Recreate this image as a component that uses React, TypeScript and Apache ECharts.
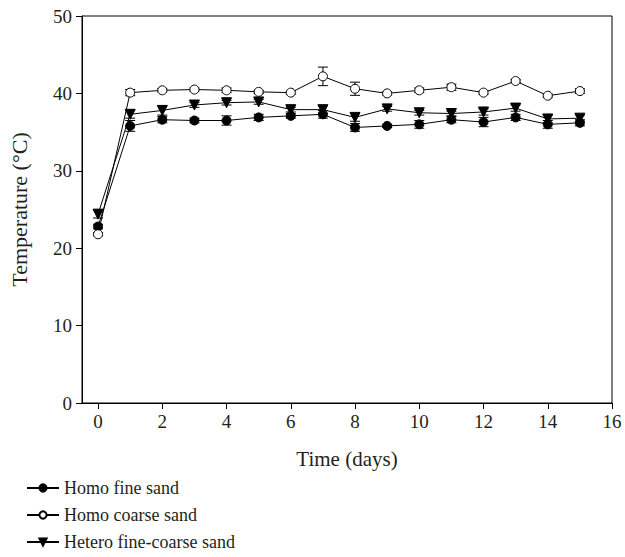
import React, { useEffect, useRef } from "react";
import * as echarts from "echarts";

const days = [0, 1, 2, 3, 4, 5, 6, 7, 8, 9, 10, 11, 12, 13, 14, 15];
const homoFine = [22.8, 35.8, 36.6, 36.5, 36.5, 36.9, 37.1, 37.3, 35.6, 35.8, 36.0, 36.6, 36.3, 36.9, 36.0, 36.2];
const homoFineErr = [0.3, 0.7, 0.4, 0.3, 0.6, 0.4, 0.3, 0.5, 0.5, 0.2, 0.5, 0.4, 0.6, 0.4, 0.5, 0.4];
const homoCoarse = [21.8, 40.1, 40.4, 40.5, 40.4, 40.2, 40.1, 42.2, 40.6, 40.0, 40.4, 40.8, 40.1, 41.6, 39.7, 40.3];
const homoCoarseErr = [0.2, 0.4, 0.2, 0.2, 0.3, 0.2, 0.2, 1.2, 0.85, 0.2, 0.3, 0.4, 0.2, 0.2, 0.2, 0.3];
const hetero = [24.4, 37.3, 37.8, 38.5, 38.8, 38.9, 37.9, 37.9, 36.9, 38.0, 37.5, 37.4, 37.6, 38.1, 36.7, 36.8];
const heteroErr = [0.5, 0.5, 0.6, 0.3, 0.3, 0.3, 0.3, 0.5, 0.5, 0.3, 0.3, 0.3, 0.4, 0.4, 0.5, 0.4];
const xTicks = [0, 2, 4, 6, 8, 10, 12, 14, 16];
const seriesNames = ["Homo fine sand", "Homo coarse sand", "Hetero fine-coarse sand"];

const FONT = "'Liberation Serif', 'DejaVu Serif', serif";
const TXT = "#231f20";

function errorSeries(vals: number[], errs: number[]) {
  return {
    type: "custom",
    silent: true,
    z: 1,
    data: days.map((d, i) => [d, vals[i], errs[i]]),
    encode: { x: 0, y: 1 },
    renderItem: (params: any, api: any) => {
      const x = api.value(0);
      const y = api.value(1);
      const e = api.value(2);
      const top = api.coord([x, y + e]);
      const bot = api.coord([x, y - e]);
      const hw = 5;
      const style = { stroke: "#000", lineWidth: 1 };
      return {
        type: "group",
        children: [
          { type: "line", shape: { x1: top[0], y1: top[1], x2: bot[0], y2: bot[1] }, style },
          { type: "line", shape: { x1: top[0] - hw, y1: top[1], x2: top[0] + hw, y2: top[1] }, style },
          { type: "line", shape: { x1: bot[0] - hw, y1: bot[1], x2: bot[0] + hw, y2: bot[1] }, style },
        ],
      };
    },
  };
}

function lineSeries(name: string, vals: number[], symbol: string, fill: string, size: number, rotate = 0) {
  return {
    name,
    type: "line",
    z: 3,
    data: days.map((d, i) => [d, vals[i]]),
    symbol,
    symbolSize: size,
    symbolRotate: rotate,
    showAllSymbol: true,
    lineStyle: { color: "#000", width: 1 },
    itemStyle: { color: fill, borderColor: "#000", borderWidth: 1 },
  };
}

export default function App() {
  const ref = useRef<HTMLDivElement>(null);
  useEffect(() => {
    if (!ref.current) return;
    const chart = echarts.init(ref.current, null, { renderer: "svg" });
    chart.setOption({
      animation: false,
      backgroundColor: "#fff",
      textStyle: { fontFamily: FONT },
      grid: {
        left: 80,
        right: 13,
        top: 16,
        bottom: 154,
        show: true,
        borderColor: "#000",
        borderWidth: 1,
        backgroundColor: "transparent",
      },
      legend: {
        orient: "vertical",
        left: 21,
        top: 474,
        height: 83,
        itemWidth: 32,
        itemHeight: 9,
        itemGap: 9,
        data: seriesNames,
        textStyle: { fontFamily: FONT, fontSize: 18, color: TXT },
      },
      xAxis: {
        type: "value",
        min: -0.5,
        max: 16,
        name: "Time (days)",
        nameLocation: "middle",
        nameGap: 45,
        nameTextStyle: { fontFamily: FONT, fontSize: 21, color: TXT },
        axisLine: { show: true, onZero: false, lineStyle: { color: "#000" } },
        axisTick: { show: true, length: 6, inside: false, customValues: xTicks, lineStyle: { color: "#000" } },
        axisLabel: { customValues: xTicks, fontFamily: FONT, fontSize: 19, color: TXT, margin: 9 },
        splitLine: { show: false },
      },
      yAxis: {
        type: "value",
        min: 0,
        max: 50,
        interval: 10,
        name: "Temperature (°C)",
        nameLocation: "middle",
        nameGap: 52,
        nameTextStyle: { fontFamily: FONT, fontSize: 22, color: TXT },
        axisLine: { show: true, onZero: false, lineStyle: { color: "#000" } },
        axisTick: { show: true, length: 6, inside: false, lineStyle: { color: "#000" } },
        axisLabel: { fontFamily: FONT, fontSize: 19, color: TXT, margin: 10 },
        splitLine: { show: false },
      },
      series: [
        errorSeries(homoFine, homoFineErr),
        errorSeries(homoCoarse, homoCoarseErr),
        errorSeries(hetero, heteroErr),
        lineSeries(seriesNames[0], homoFine, "circle", "#000", 9),
        lineSeries(seriesNames[1], homoCoarse, "circle", "#fff", 9),
        lineSeries(seriesNames[2], hetero, "triangle", "#000", 10, 180),
      ],
    });
    return () => chart.dispose();
  }, []);
  return (
    <div
      ref={ref}
      style={{ position: "fixed", left: 0, top: 0, width: 625, height: 557 }}
    />
  );
}
